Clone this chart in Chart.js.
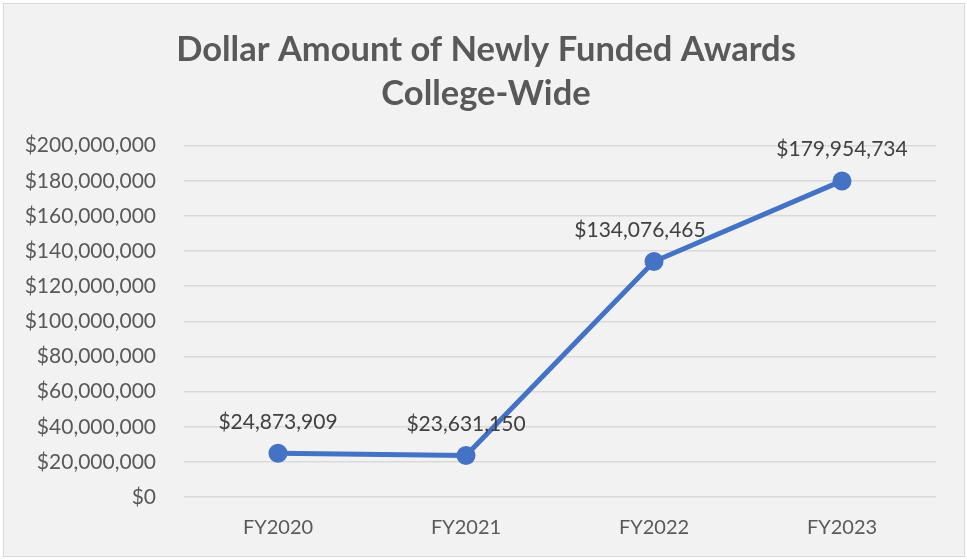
<!DOCTYPE html>
<html>
<head>
<meta charset="utf-8">
<script src="https://cdn.jsdelivr.net/npm/chart.js@4.4.0/dist/chart.umd.min.js"></script>
<style>
  html, body { margin: 0; padding: 0; background: #ffffff; }
  #wrap { width: 967px; height: 560px; position: relative; }
</style>
</head>
<body>
<div id="wrap"><canvas id="awardsChart" width="967" height="560"></canvas></div>
<script>
const fiscalYears = ['FY2020', 'FY2021', 'FY2022', 'FY2023'];
const awardDollars = [24873909, 23631150, 134076465, 179954734];
const titleLines = ['Dollar Amount of Newly Funded Awards', 'College-Wide'];
const yMax = 200000000;
const yStep = 20000000;

const FONT = 'Lato, "Open Sans", sans-serif';

function money(v) {
    return '$' + Math.round(v).toLocaleString('en-US');
}

// box background + thin border like the Excel chart area
const boxPlugin = {
    id: 'box',
    beforeDraw(chart) {
        const ctx = chart.ctx;
        ctx.save();
        ctx.fillStyle = '#ffffff';
        ctx.fillRect(0, 0, chart.width, chart.height);
        ctx.fillStyle = '#f2f2f2';
        ctx.fillRect(3, 3, 961, 553);
        ctx.strokeStyle = '#d9d9d9';
        ctx.lineWidth = 1;
        ctx.strokeRect(3.5, 3.5, 961, 553);
        ctx.restore();
    },
    // Excel centres the title on the whole box, not on the padded area
    afterLayout(chart) {
        if (chart.titleBlock) {
            chart.titleBlock.left += 13;
            chart.titleBlock.right += 13;
        }
    }
};

// value labels above each point
const valueLabels = {
    id: 'valueLabels',
    afterDatasetsDraw(chart) {
        const ctx = chart.ctx;
        const meta = chart.getDatasetMeta(0);
        const shift = [0, 0, -14, 0];
        ctx.save();
        ctx.font = '21px ' + FONT;
        ctx.fillStyle = '#404040';
        ctx.textAlign = 'center';
        ctx.textBaseline = 'bottom';
        meta.data.forEach((pt, i) => {
            ctx.fillText(money(awardDollars[i]), pt.x + shift[i], pt.y - 21);
        });
        ctx.restore();
    }
};

const chart = new Chart(document.getElementById('awardsChart'), {
    type: 'line',
    data: {
        labels: fiscalYears,
        datasets: [{
            data: awardDollars,
            borderColor: '#4472c4',
            backgroundColor: '#4472c4',
            borderWidth: 5,
            pointRadius: 7,
            pointHoverRadius: 7,
            tension: 0
        }]
    },
    options: {
        responsive: false,
        animation: false,
        layout: { padding: { top: 27, right: 31, left: 10, bottom: 0 } },
        plugins: {
            legend: { display: false },
            tooltip: { enabled: false },
            title: {
                display: true,
                text: titleLines,
                color: '#595959',
                font: { family: FONT, size: 34.5, weight: 'bold', lineHeight: 1.3 },
                padding: { top: 0, bottom: 29 }
            }
        },
        scales: {
            x: {
                offset: true,
                grid: { display: false, drawTicks: false, offset: true },
                border: { display: false },
                ticks: { color: '#595959', font: { family: FONT, size: 20 }, padding: 19 },
                afterFit(scale) { scale.height = 63; }
            },
            y: {
                min: 0,
                max: yMax,
                grid: { color: '#d9d9d9', lineWidth: 1.5, drawTicks: false },
                border: { display: false },
                ticks: {
                    stepSize: yStep,
                    color: '#595959',
                    font: { family: FONT, size: 21 },
                    padding: 28,
                    callback: v => money(v)
                },
                afterFit(scale) { scale.width = 174; }
            }
        }
    },
    plugins: [boxPlugin, valueLabels]
});
</script>
</body>
</html>
